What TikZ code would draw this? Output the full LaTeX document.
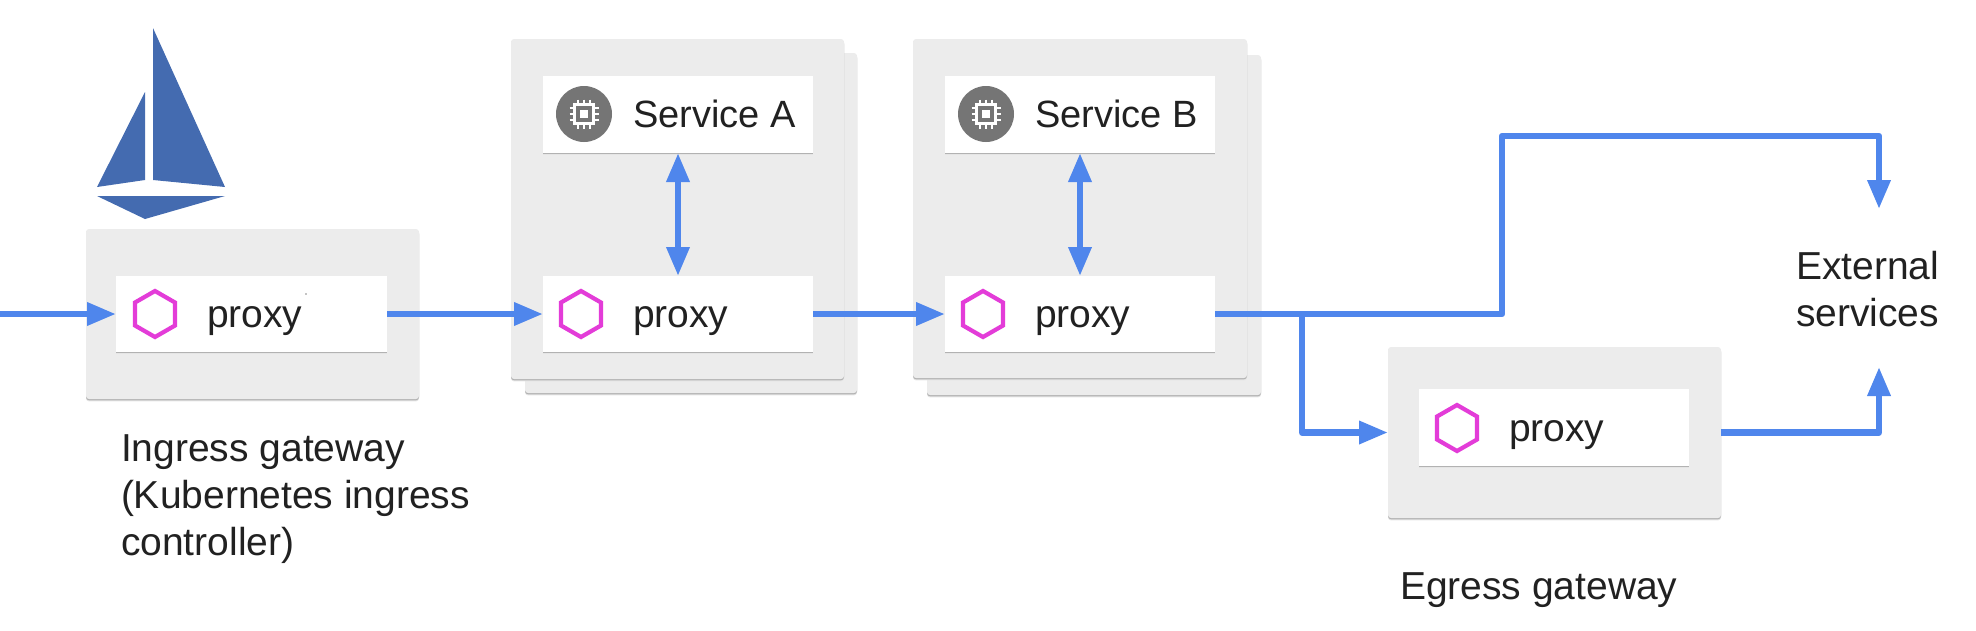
\documentclass[tikz,border=0pt]{standalone}
\usepackage{fontspec}
\setmainfont{Liberation Sans}
\usetikzlibrary{arrows.meta,shadows}
\definecolor{flow}{HTML}{4F86EC}
\definecolor{panel}{HTML}{ECECEC}
\definecolor{sail}{HTML}{446BB0}
\definecolor{hexpink}{HTML}{E33CD8}
\definecolor{ink}{HTML}{212121}
\definecolor{chip}{HTML}{757575}
\tikzset{
  x=1pt,y=-1pt,
  softshadow/.style={
    general shadow={shadow xshift=0pt,shadow yshift=-2.4pt,fill=black!10},
    general shadow={shadow xshift=0pt,shadow yshift=-1.3pt,fill=black!30}},
  panelbox/.style={fill=panel,draw=none,rounded corners=3pt,inner sep=0,outer sep=0,anchor=north west,softshadow},
  whitebox/.style={fill=white,draw=none,inner sep=0,outer sep=0,anchor=north west,softshadow},
  label/.style={inner sep=0,outer sep=0,anchor=base west,text=ink,font=\fontsize{39}{47}\selectfont},
  flowline/.style={draw=flow,line width=6.5pt,line join=round,-{Triangle[length=29pt,width=22pt]}},
  flowboth/.style={draw=flow,line width=6.5pt,{Triangle[length=29pt,width=22pt]}-{Triangle[length=29pt,width=22pt]}},
  hexa/.pic={\draw[hexpink,line width=4.2pt,line join=miter] (0,-23)--(20,-11.5)--(20,11.5)--(0,23)--(-20,11.5)--(-20,-11.5)--cycle;},
  chipicon/.pic={
    \fill[chip] (0,0) circle[radius=28];
    \draw[white,line width=2.4pt] (-9.5,-9.5) rectangle (9.5,9.5);
    \fill[white] (-4,-4) rectangle (4,4);
    \foreach \d in {-6,0,6}{
      \draw[white,line width=2pt] (\d,-14.5) -- (\d,-9.5) (\d,9.5) -- (\d,14.5) (-14.5,\d) -- (-9.5,\d) (9.5,\d) -- (14.5,\d);
    }}
}
\begin{document}
\begin{tikzpicture}
\useasboundingbox (0,0) rectangle (1976,630);
% logo
\fill[sail] (153,28) -- (225,187) -- (153,180) -- cycle;
\fill[sail] (145,92) -- (145,180) -- (97,187) -- cycle;
\fill[sail] (97,196) -- (225,196) -- (145,219) -- cycle;
% panels
\node[panelbox,minimum width=333pt,minimum height=170pt] (g1) at (86,229) {};
\node[panelbox,minimum width=332pt,minimum height=340pt] (b2) at (525,53) {};
\node[panelbox,minimum width=333pt,minimum height=340pt] (g2) at (511,39) {};
\node[panelbox,minimum width=334pt,minimum height=340pt] (b3) at (927,55) {};
\node[panelbox,minimum width=334pt,minimum height=339pt] (g3) at (913,39) {};
\node[panelbox,minimum width=333pt,minimum height=171pt] (g4) at (1388,347) {};
% white boxes
\node[whitebox,minimum width=271pt,minimum height=76pt] (p1) at (116,276) {};
\node[whitebox,minimum width=270pt,minimum height=77pt] (sa) at (543,76) {};
\node[whitebox,minimum width=270pt,minimum height=76pt] (p2) at (543,276) {};
\node[whitebox,minimum width=270pt,minimum height=77pt] (sb) at (945,76) {};
\node[whitebox,minimum width=270pt,minimum height=76pt] (p3) at (945,276) {};
\node[whitebox,minimum width=270pt,minimum height=77pt] (p4) at (1419,389) {};
% icons
\pic at (155,314) {hexa};
\pic at (581,314) {hexa};
\pic at (983,314) {hexa};
\pic at (1457,428) {hexa};
\pic at (584,114) {chipicon};
\pic at (986,114) {chipicon};
\fill[black] (306,294) circle[radius=0.7];
% labels
\node[label] (t1) at (207,327) {proxy};
\node[label] (t2) at (633,327) {proxy};
\node[label] (t3) at (1035,327) {proxy};
\node[label] (t4) at (1509,441) {proxy};
\node[label,font=\fontsize{38}{47}\selectfont] (t5) at (633,127) {Service A};
\node[label,font=\fontsize{38}{47}\selectfont] (t6) at (1035,127) {Service B};
\node[label,align=left,anchor=north west] (t7) at (121,435) {Ingress gateway\\(Kubernetes ingress\\controller)};
\node[label] (t8) at (1400,599) {Egress gateway};
\node[label,align=left,anchor=north west] (t9) at (1796,251) {External\\services};
% connectors
\coordinate (in) at (0,314);
\coordinate (split) at (1302,314);
\coordinate (riser) at (1502,136);
\coordinate (extTop) at (1879,209);
\coordinate (extBot) at (1879,367);
\draw[flowline] (in) -- (p1.west);
\draw[flowline] (p1.east) -- (p2.west);
\draw[flowline] (p2.east) -- (p3.west);
\draw[flowboth] (sa.south) -- (p2.north);
\draw[flowboth] (sb.south) -- (p3.north);
\draw[flowline] (p3.east) -| (riser) -| (extTop);
\draw[flowline] (split) |- (g4.west);
\draw[flowline] (g4.east) -| (extBot);
\end{tikzpicture}
\end{document}
